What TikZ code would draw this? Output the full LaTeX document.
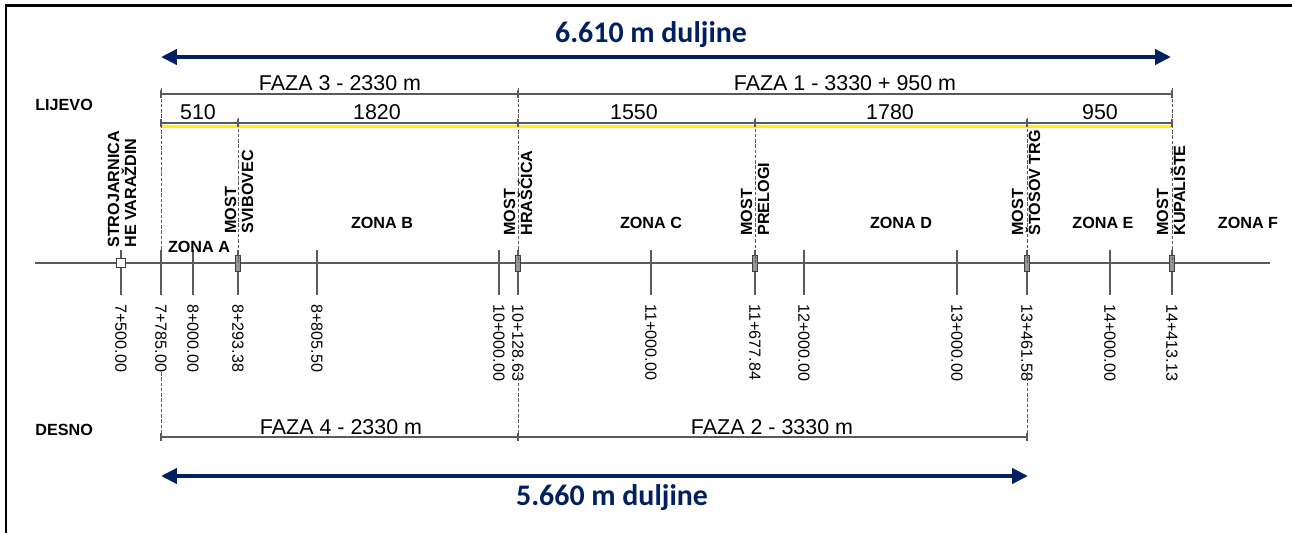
\documentclass[tikz,border=0pt]{standalone}
\usepackage{fontspec}
\setmainfont{Liberation Sans}
\newfontfamily\titlefont{Carlito}
\usetikzlibrary{arrows.meta}
\definecolor{navyline}{RGB}{0,32,96}
\definecolor{axisgray}{RGB}{90,90,90}
\definecolor{markgray}{RGB}{150,150,150}

\begin{document}
\begin{tikzpicture}[
    x=0.02cm, y=-0.02cm,
    dimline/.style={draw=axisgray, line width=0.6pt},
    guide/.style={draw=axisgray, dash pattern=on 2pt off 1pt, line width=0.4pt},
    sttick/.style={draw=axisgray, line width=0.7pt},
    bigarrow/.style={{Triangle[length=9pt,width=8.5pt]}-{Triangle[length=9pt,width=8.5pt]}, draw=navyline, line width=2.2pt},
    title/.style={font=\titlefont\bfseries\fontsize{17}{20}\selectfont, text=navyline},
    dimtext/.style={font=\fontsize{12.2}{14}\selectfont, anchor=base, inner sep=0pt},
    zone/.style={font=\bfseries\fontsize{9.2}{10}\selectfont, inner sep=0pt},
    side/.style={font=\bfseries\fontsize{9.2}{10}\selectfont, anchor=west, inner sep=0pt},
    station/.style={font=\fontsize{9.2}{10}\selectfont, rotate=-90, anchor=west, inner sep=0pt},
    bridgelabel/.style={font=\bfseries\fontsize{9.2}{9.6}\selectfont, rotate=90, anchor=west, align=left, inner sep=0pt},
    bridge/.style={draw=black!75, fill=markgray, line width=0.4pt, minimum width=3pt, minimum height=9pt, inner sep=0pt},
    plant/.style={draw=black!75, fill=white, line width=0.4pt, minimum size=5.5pt, inner sep=0pt}
]

\useasboundingbox (0,0) rectangle (1292,532);
\draw[line width=1.7pt] (6,5) rectangle (1310,545);

% === STATIONS ON THE AXIS ===
\coordinate (ax_start) at (35,263);
\coordinate (ax_end) at (1270,263);
\draw[sttick] (ax_start) -- (ax_end);

\foreach \name/\xpos/\km in {s1/121/7+500.00, s2/161/7+785.00, s3/193/8+000.00,
    s4/238/8+293.38, s5/317/8+805.50, s6/499/10+000.00, s7/518/10+128.63,
    s8/651/11+000.00, s9/755/11+677.84, s10/804/12+000.00, s11/957/13+000.00,
    s12/1027/13+461.58, s13/1110/14+000.00, s14/1172/14+413.13} {
  \coordinate (\name) at (\xpos,263);
  \draw[sttick] (\xpos,250) -- (\xpos,295);
  \node[station] (\name_km) at (\xpos,304) {\km};
}

% bridges and power plant
\node[plant] (plant) at (s1) {};
\foreach \name in {s4, s7, s9, s12, s14}
  \node[bridge] (\name_br) at (\name) {};

% === GUIDE LINES ===
\draw[guide] (161,88) -- (s2);
\draw[guide] (161,372) -- (161,437);
\draw[guide] (238,118) -- (s4);
\draw[guide] (518,88) -- (s7);
\draw[guide] (518,372) -- (518,437);
\draw[guide] (755,118) -- (s9);
\draw[guide] (1027,118) -- (s12);
\draw[guide] (1027,372) -- (1027,437);
\draw[guide] (1172,88) -- (s14);

% === LIJEVO DIMENSIONS ===
\node[side] (lijevo) at (35,105) {LIJEVO};
\draw[dimline] (161,94) -- (1172,94);
\draw[dimline] (161,123) -- (1172,123);
\draw[yellow, line width=1.3pt] (162,126.5) -- (1172,126.5);
\foreach \xpos in {161, 518, 1172}
  \draw[dimline] (\xpos,90) -- (\xpos,98);
\foreach \xpos in {161, 238, 518, 755, 1027, 1172}
  \draw[dimline] (\xpos,119) -- (\xpos,127);

\node[dimtext] (faza3) at (340,90) {FAZA 3 - 2330 m};
\node[dimtext] (faza1) at (845,90) {FAZA 1 - 3330 + 950 m};
\node[dimtext] (seg510) at (198,119) {510};
\node[dimtext] (seg1820) at (377,119) {1820};
\node[dimtext] (seg1550) at (634,119) {1550};
\node[dimtext] (seg1780) at (890,119) {1780};
\node[dimtext] (seg950) at (1100,119) {950};

% === BRIDGE LABELS ===
\node[bridgelabel] (lbl_plant) at (122,248) {STROJARNICA\\HE VARAŽDIN};
\node[bridgelabel] (lbl_svibovec) at (239,234) {MOST\\SVIBOVEC};
\node[bridgelabel] (lbl_hrascica) at (518,236) {MOST\\HRAŠĆICA};
\node[bridgelabel] (lbl_prelogi) at (755,236) {MOST\\PRELOGI};
\node[bridgelabel] (lbl_stosov) at (1026,236) {MOST\\ŠTOSOV TRG};
\node[bridgelabel] (lbl_kupaliste) at (1171,236) {MOST\\KUPALIŠTE};

% === ZONES ===
\node[zone] (zona_a) at (199,247) {ZONA A};
\node[zone] (zona_b) at (382,223) {ZONA B};
\node[zone] (zona_c) at (651,223) {ZONA C};
\node[zone] (zona_d) at (901,223) {ZONA D};
\node[zone] (zona_e) at (1103,223) {ZONA E};
\node[zone] (zona_f) at (1248,223) {ZONA F};

% === DESNO DIMENSIONS ===
\node[side] (desno) at (35,430) {DESNO};
\draw[dimline] (161,437) -- (1027,437);
\foreach \xpos in {161, 518, 1027}
  \draw[dimline] (\xpos,433) -- (\xpos,441);
\node[dimtext] (faza4) at (341,434) {FAZA 4 - 2330 m};
\node[dimtext] (faza2) at (772,434) {FAZA 2 - 3330 m};

% === TOTAL LENGTHS ===
\coordinate (top_l) at (161,57);
\coordinate (top_r) at (1171,57);
\draw[bigarrow] (top_l) -- (top_r);
\node[title] (len_top) at (651,35) {6.610 m duljine};

\coordinate (bot_l) at (161,476);
\coordinate (bot_r) at (1028,476);
\draw[bigarrow] (bot_l) -- (bot_r);
\node[title] (len_bot) at (612,498) {5.660 m duljine};

\end{tikzpicture}
\end{document}
